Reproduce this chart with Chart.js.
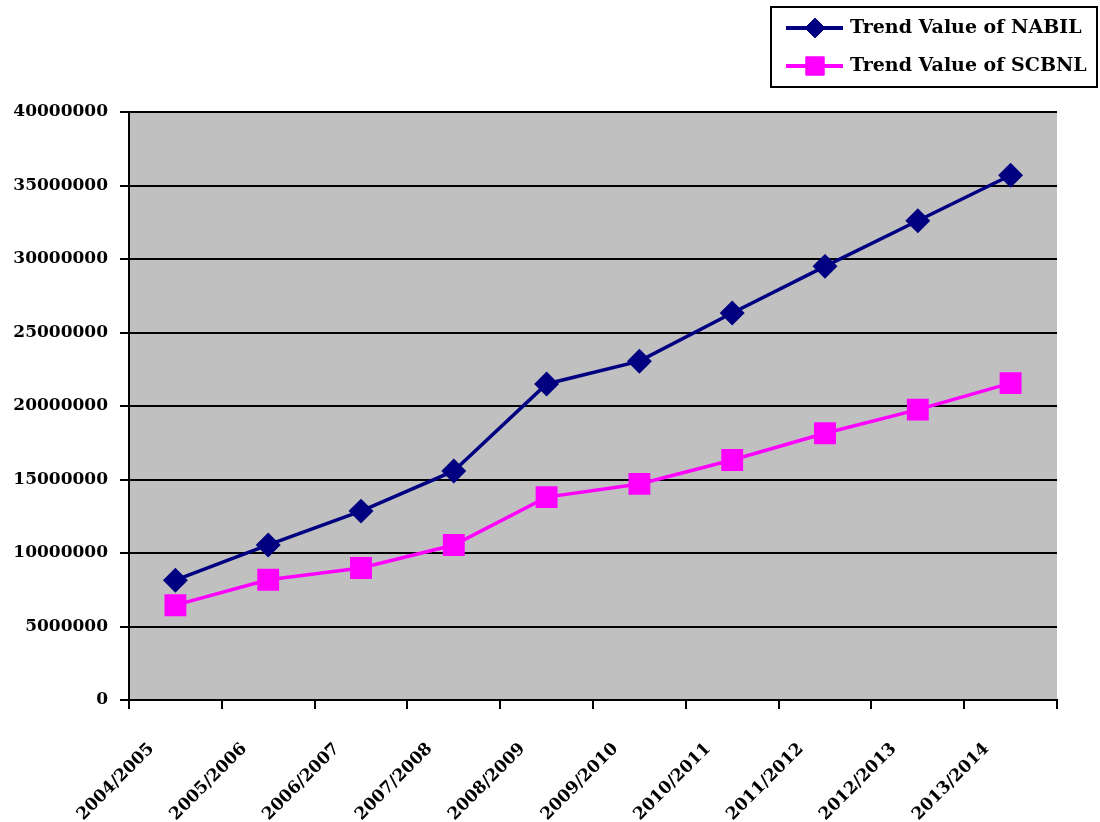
<!DOCTYPE html>
<html>
<head>
<meta charset="utf-8">
<script src="https://cdn.jsdelivr.net/npm/chart.js@4.4.1/dist/chart.umd.min.js"></script>
<style>
  body { margin: 0; background: #fff; }
  #chart { display: block; }
</style>
</head>
<body>
<canvas id="chart" width="1100" height="822"></canvas>
<script>
const years = ['2004/2005', '2005/2006', '2006/2007', '2007/2008', '2008/2009',
               '2009/2010', '2010/2011', '2011/2012', '2012/2013', '2013/2014'];
const nabil = [8150000, 10550000, 12850000, 15580000, 21500000,
               23050000, 26330000, 29500000, 32600000, 35700000];
const scbnl = [6450000, 8180000, 8980000, 10540000, 13800000,
               14700000, 16330000, 18150000, 19750000, 21560000];
const legendNames = ['Trend Value of NABIL', 'Trend Value of SCBNL'];

const fontFamily = '"DejaVu Serif", "Liberation Serif", serif';

// gray plot background
const plotBg = {
    id: 'plotBg',
    beforeDraw(chart) {
        const a = chart.chartArea;
        const ctx = chart.ctx;
        ctx.save();
        ctx.fillStyle = '#C0C0C0';
        ctx.fillRect(a.left, a.top, a.right - a.left, a.bottom - a.top);
        ctx.restore();
    }
};

// boxed legend top right, like the original
const boxLegend = {
    id: 'boxLegend',
    afterDraw(chart) {
        const ctx = chart.ctx;
        const x = 771, y = 7, w = 326, h = 80;
        ctx.save();
        ctx.fillStyle = '#fff';
        ctx.fillRect(x, y, w, h);
        ctx.strokeStyle = '#000';
        ctx.lineWidth = 2;
        ctx.strokeRect(x, y, w, h);
        chart.data.datasets.forEach((ds, i) => {
            const cy = y + 21 + i * 38;
            ctx.strokeStyle = ds.borderColor;
            ctx.lineWidth = 4;
            ctx.beginPath();
            ctx.moveTo(786, cy);
            ctx.lineTo(843, cy);
            ctx.stroke();
            ctx.fillStyle = ds.pointBackgroundColor;
            ctx.strokeStyle = ds.pointBorderColor;
            ctx.lineWidth = 1;
            Chart.helpers.drawPoint(ctx, {
                pointStyle: ds.pointStyle,
                radius: ds.pointRadius,
                borderWidth: 1
            }, 815, cy);
            ctx.fillStyle = '#000';
            ctx.font = 'bold 19px ' + fontFamily;
            ctx.textAlign = 'left';
            ctx.textBaseline = 'middle';
            ctx.fillText(legendNames[i], 850, cy);
        });
        ctx.restore();
    }
};

new Chart(document.getElementById('chart'), {
    type: 'line',
    data: {
        labels: years,
        datasets: [
            {
                label: legendNames[0],
                data: nabil,
                borderColor: '#000080',
                backgroundColor: '#000080',
                pointBackgroundColor: '#000080',
                pointBorderColor: '#000080',
                borderWidth: 3.5,
                pointStyle: 'rectRot',
                pointRadius: 10,
                pointHoverRadius: 10,
                tension: 0
            },
            {
                label: legendNames[1],
                data: scbnl,
                borderColor: '#FF00FF',
                backgroundColor: '#FF00FF',
                pointBackgroundColor: '#FF00FF',
                pointBorderColor: '#FF00FF',
                borderWidth: 3.5,
                pointStyle: 'rect',
                pointRadius: 13,
                pointHoverRadius: 13,
                tension: 0
            }
        ]
    },
    options: {
        responsive: false,
        animation: false,
        layout: { padding: { top: 112, right: 43, left: 0, bottom: 0 } },
        plugins: {
            legend: { display: false },
            tooltip: { enabled: false }
        },
        scales: {
            x: {
                offset: true,
                grid: {
                    offset: true,
                    drawOnChartArea: false,
                    drawTicks: true,
                    tickLength: 9,
                    color: '#000',
                    lineWidth: 2
                },
                border: { color: '#000', width: 2 },
                ticks: {
                    color: '#000',
                    font: { family: fontFamily, size: 17, weight: 'bold' },
                    minRotation: 45,
                    maxRotation: 45,
                    autoSkip: false,
                    labelOffset: -24,
                    padding: 30
                },
                afterFit(scale) { scale.height = 122; }
            },
            y: {
                min: 0,
                max: 40000000,
                ticks: {
                    stepSize: 5000000,
                    color: '#000',
                    font: { family: fontFamily, size: 17, weight: 'bold' },
                    padding: 12,
                    callback: v => String(v)
                },
                grid: {
                    color: '#000',
                    lineWidth: 2,
                    tickLength: 9
                },
                border: { color: '#000', width: 2 },
                afterFit(scale) { scale.width = 129; }
            }
        }
    },
    plugins: [plotBg, boxLegend]
});
</script>
</body>
</html>
